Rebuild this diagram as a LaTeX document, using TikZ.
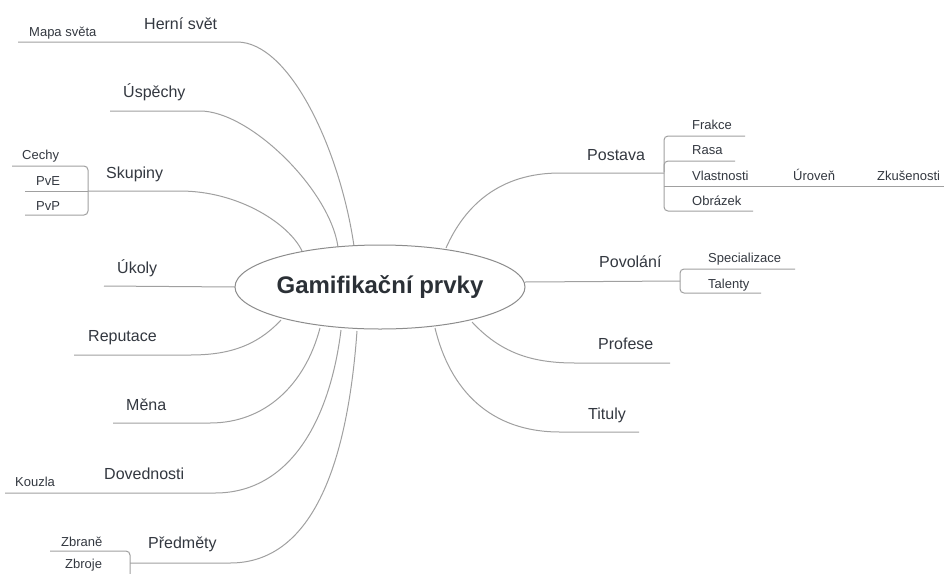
\documentclass[tikz,border=0pt]{standalone}
\usepackage{fontspec}
\setmainfont{Liberation Sans}
\usetikzlibrary{shapes.geometric}
\definecolor{linegray}{HTML}{A0A0A0}
\definecolor{rimgray}{HTML}{8C8C8C}
\definecolor{ink}{HTML}{333840}
\begin{document}
\begin{tikzpicture}[x=1pt,y=-1pt,
  branch/.style={draw=linegray, line width=1pt},
  bracket/.style={branch, rounded corners=4pt},
  hub/.style={ellipse, draw=rimgray, line width=1pt, fill=white,
    minimum width=290pt, minimum height=84pt, inner sep=0pt,
    text=ink!85!black, font=\fontsize{24}{28}\selectfont\bfseries},
  topic/.style={anchor=base west, inner sep=0pt, text=ink,
    font=\fontsize{16}{19}\selectfont},
  leaf/.style={anchor=base west, inner sep=0pt, text=ink,
    font=\fontsize{13}{15}\selectfont},
]
\useasboundingbox (0,0) rectangle (944,573);
\fill[white] (0,0) rectangle (944,573);

% ---------- attachment points on the central ellipse ----------
\coordinate (hw-a) at (354,246);
\coordinate (us-a) at (338,247);
\coordinate (sk-a) at (302,251);
\coordinate (uk-a) at (235,287);
\coordinate (re-a) at (281,320);
\coordinate (me-a) at (320,328);
\coordinate (do-a) at (341,330);
\coordinate (pr-a) at (357,331);
\coordinate (po-a) at (446,248);
\coordinate (pv-a) at (525,282);
\coordinate (pf-a) at (472,322);
\coordinate (ti-a) at (435,328);

% ---------- underline end points ----------
\coordinate (hw-b) at (237,42);   \coordinate (hw-c) at (18,42);
\coordinate (us-b) at (200,111);  \coordinate (us-c) at (110,111);
\coordinate (sk-b) at (180,191);  \coordinate (sk-c) at (88,191);
\coordinate (uk-c) at (104,286);
\coordinate (re-b) at (190,355);  \coordinate (re-c) at (74,355);
\coordinate (me-b) at (210,423);  \coordinate (me-c) at (113,423);
\coordinate (do-b) at (215,493);  \coordinate (do-c) at (5,493);
\coordinate (pr-b) at (230,563);  \coordinate (pr-c) at (130,563);
\coordinate (po-b) at (560,173);  \coordinate (po-c) at (664,173);
\coordinate (pv-c) at (680,281);
\coordinate (pf-b) at (575,363);  \coordinate (pf-c) at (670,363);
\coordinate (ti-b) at (560,432);  \coordinate (ti-c) at (639,432);

% sub-branch brackets
\coordinate (ce-c) at (12,166);   \coordinate (ce-k) at (88,166);
\coordinate (pve-c) at (25,191);
\coordinate (pvp-c) at (25,215);  \coordinate (pvp-k) at (88,215);
\coordinate (zb-c) at (50,551);   \coordinate (zb-k) at (130,551);
\coordinate (zb-v) at (130,585);
\coordinate (fr-c) at (745,136);  \coordinate (fr-k) at (664,136);
\coordinate (ra-c) at (735,161);  \coordinate (ra-k) at (664,161);
\coordinate (ra-v) at (664,172);
\coordinate (vl-k) at (664,186);  \coordinate (vl-c) at (944,186);
\coordinate (ob-c) at (753,211);  \coordinate (ob-k) at (664,211);
\coordinate (sp-c) at (795,269);  \coordinate (sp-k) at (680,269);
\coordinate (ta-c) at (761,293);  \coordinate (ta-k) at (680,293);

% ---------- branches, left side ----------
\draw[branch] (hw-a) .. controls +(-14,-96) and +(53,0) .. (hw-b) -- (hw-c);
\draw[branch] (us-a) .. controls +(-8,-57) and +(50,0) .. (us-b) -- (us-c);
\draw[branch] (sk-a) .. controls +(-12,-26) and +(60,0) .. (sk-b) -- (sk-c);
\draw[branch] (uk-a) -- (uk-c);
\draw[branch] (re-a) .. controls +(-26,28) and +(35,0) .. (re-b) -- (re-c);
\draw[branch] (me-a) .. controls +(-15,57) and +(55,0) .. (me-b) -- (me-c);
\draw[branch] (do-a) .. controls +(-11,90) and +(75,0) .. (do-b) -- (do-c);
\draw[branch] (pr-a) .. controls +(-10,139) and +(80,0) .. (pr-b) -- (pr-c);

% ---------- branches, right side ----------
\draw[branch] (po-a) .. controls +(19,-43) and +(-60,0) .. (po-b) -- (po-c);
\draw[branch] (pv-a) -- (pv-c);
\draw[branch] (pf-a) .. controls +(28,30) and +(-45,0) .. (pf-b) -- (pf-c);
\draw[branch] (ti-a) .. controls +(15,62) and +(-70,0) .. (ti-b) -- (ti-c);

% ---------- sub-branch brackets ----------
\draw[bracket] (ce-c) -- (ce-k) -- (pvp-k) -- (pvp-c);
\draw[branch] (pve-c) -- (sk-c);
\draw[bracket] (zb-c) -- (zb-k) -- (zb-v);
\draw[bracket] (fr-c) -- (fr-k) -- (ob-k) -- (ob-c);
\draw[bracket] (ra-c) -- (ra-k) -- (ra-v);
\draw[branch] (vl-k) -- (vl-c);
\draw[bracket] (sp-c) -- (sp-k) -- (ta-k) -- (ta-c);

% ---------- central topic ----------
\node[hub] (hub) at (380,287) {\makebox[0pt]{Gamifikační prvky}};

% ---------- topic labels ----------
\node[topic] (herni)     at (144,29)  {Herní svět};
\node[topic] (uspechy)   at (123,97)  {Úspěchy};
\node[topic] (skupiny)   at (106,178) {Skupiny};
\node[topic] (ukoly)     at (117,273) {Úkoly};
\node[topic] (reputace)  at (88,341)  {Reputace};
\node[topic] (mena)      at (126,410) {Měna};
\node[topic] (dovednost) at (104,479) {Dovednosti};
\node[topic] (predmety)  at (148,548) {Předměty};
\node[topic] (postava)   at (587,160) {Postava};
\node[topic] (povolani)  at (599,267) {Povolání};
\node[topic] (profese)   at (598,349) {Profese};
\node[topic] (tituly)    at (588,419) {Tituly};

% ---------- leaf labels ----------
\node[leaf] (mapa)     at (29,36)   {Mapa světa};
\node[leaf] (cechy)    at (22,159)  {Cechy};
\node[leaf] (pve)      at (36,185)  {PvE};
\node[leaf] (pvp)      at (36,210)  {PvP};
\node[leaf] (kouzla)   at (15,486)  {Kouzla};
\node[leaf] (zbrane)   at (61,546)  {Zbraně};
\node[leaf] (zbroje)   at (65,568)  {Zbroje};
\node[leaf] (frakce)   at (692,129) {Frakce};
\node[leaf] (rasa)     at (692,154) {Rasa};
\node[leaf] (vlast)    at (692,180) {Vlastnosti};
\node[leaf] (uroven)   at (793,180) {Úroveň};
\node[leaf] (zkus)     at (877,180) {Zkušenosti};
\node[leaf] (obrazek)  at (692,205) {Obrázek};
\node[leaf] (special)  at (708,262) {Specializace};
\node[leaf] (talenty)  at (708,288) {Talenty};
\end{tikzpicture}
\end{document}
